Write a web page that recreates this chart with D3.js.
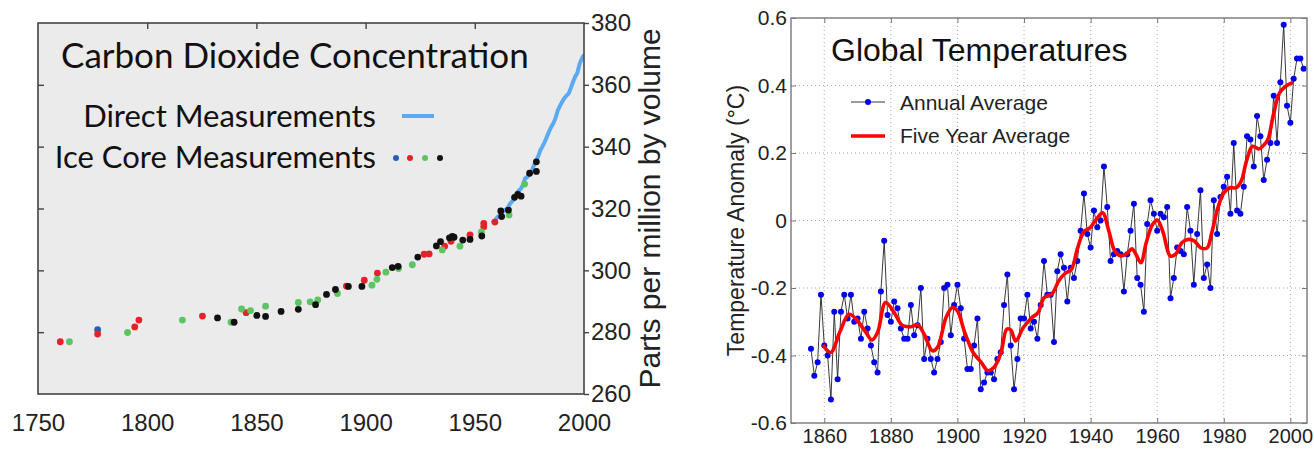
<!DOCTYPE html>
<html>
<head>
<meta charset="utf-8">
<script src="https://cdnjs.cloudflare.com/ajax/libs/d3/7.8.5/d3.min.js"></script>
<style>
body { margin: 0; background: #fff; }
svg { display: block; }
</style>
</head>
<body>
<div id="chart"></div>
<script>

// ---- CO2 panel data ----
var co2XTicks = [1750, 1800, 1850, 1900, 1950, 2000];
var co2YTicks = [260, 280, 300, 320, 340, 360, 380];

// ice core points, [year, ppm], grouped by record colour
var iceBlue = [[1777.3, 280.8]];
var iceRed = [[1760.2, 276.9], [1777.3, 279.4], [1794.3, 281.7], [1796.2, 283.9], [1825.3, 285.2],
  [1845.3, 286.3], [1891.2, 294.9], [1899.4, 296.8], [1905.4, 299.1], [1926.8, 305.2],
  [1929.1, 305.3], [1936.2, 307.8], [1939.1, 309.4], [1947.8, 311.5], [1954.1, 314.1],
  [1954.1, 315.2], [1959.2, 315.6]];
var iceGreen = [[1764.4, 276.9], [1791.0, 279.9], [1816.1, 283.9], [1838.4, 283.2], [1843.2, 287.5],
  [1847.3, 287.0], [1854.2, 288.4], [1869.2, 289.6], [1874.6, 289.8], [1878.1, 290.4],
  [1887.1, 292.5], [1902.9, 295.2], [1905.2, 297.1], [1909.3, 299.4], [1915.1, 300.6],
  [1921.4, 301.8], [1935.1, 306.6], [1943.2, 307.8], [1953.0, 312.4], [1965.7, 317.9],
  [1972.8, 327.9]];
var iceBlack = [[1832.2, 284.6], [1839.8, 283.2], [1850.2, 285.4], [1854.2, 285.1], [1861.3, 286.7],
  [1869.2, 287.4], [1877.1, 288.9], [1882.1, 292.2], [1886.2, 293.8], [1892.1, 294.8],
  [1898.3, 294.8], [1912.2, 300.9], [1914.9, 301.3], [1923.9, 304.3], [1932.4, 307.9],
  [1934.3, 309.3], [1938.4, 310.5], [1939.7, 311.0], [1940.5, 310.7], [1944.5, 309.8],
  [1947.8, 310.0], [1953.2, 311.1], [1961.9, 319.2], [1962.3, 317.4], [1965.4, 319.5],
  [1968.2, 323.6], [1969.7, 324.6], [1971.2, 324.0], [1975.1, 331.4], [1978.2, 332.0],
  [1978.2, 335.1]];

// direct measurements (Mauna Loa, annual)
var directYears = [1958, 1959, 1960, 1961, 1962, 1963, 1964, 1965, 1966, 1967, 1968, 1969,
  1970, 1971, 1972, 1973, 1974, 1975, 1976, 1977, 1978, 1979, 1980, 1981, 1982, 1983,
  1984, 1985, 1986, 1987, 1988, 1989, 1990, 1991, 1992, 1993, 1994, 1995, 1996, 1997,
  1998, 1999, 2000];
var directPpm = [315.3, 316.0, 316.9, 317.6, 318.5, 319.0, 319.6, 320.0, 321.4, 322.2, 323.0, 324.6,
  325.7, 326.3, 327.5, 329.7, 330.2, 331.1, 332.0, 333.8, 335.4, 336.8, 338.8, 340.1, 341.5, 343.2,
  344.9, 346.4, 347.6, 349.3, 351.7, 353.2, 354.5, 355.7, 356.5, 357.2, 359.0, 361.0, 362.7, 363.9,
  366.8, 368.5, 369.7];

// ---- temperature panel data ----
var tempXTicks = [1860, 1880, 1900, 1920, 1940, 1960, 1980, 2000];
var tempYTicks = [-0.6, -0.4, -0.2, 0, 0.2, 0.4, 0.6];
var firstYear = 1856;
var annualAvg = [-0.38, -0.46, -0.42, -0.22, -0.37, -0.40, -0.53, -0.27, -0.47, -0.27,
  -0.22, -0.29, -0.22, -0.30, -0.29, -0.35, -0.27, -0.32, -0.37, -0.42,
  -0.45, -0.21, -0.06, -0.28, -0.30, -0.24, -0.26, -0.32, -0.35, -0.35,
  -0.25, -0.34, -0.31, -0.20, -0.41, -0.35, -0.41, -0.45, -0.41, -0.36,
  -0.20, -0.19, -0.34, -0.25, -0.19, -0.26, -0.35, -0.44, -0.44, -0.37,
  -0.29, -0.50, -0.48, -0.45, -0.45, -0.47, -0.41, -0.39, -0.25, -0.16,
  -0.37, -0.50, -0.41, -0.29, -0.29, -0.22, -0.32, -0.30, -0.35, -0.25,
  -0.12, -0.22, -0.22, -0.36, -0.15, -0.10, -0.14, -0.24, -0.14, -0.17,
  -0.12, -0.03, 0.08, -0.04, -0.08, 0.03, -0.02, 0.00, 0.16, 0.04,
  -0.12, -0.10, -0.09, -0.10, -0.21, -0.10, -0.03, 0.05, -0.17, -0.19,
  -0.27, -0.01, 0.06, 0.02, -0.03, 0.02, 0.01, 0.04, -0.23, -0.17,
  -0.08, -0.09, -0.10, 0.04, -0.03, -0.19, -0.04, 0.09, -0.17, -0.13,
  -0.20, 0.06, -0.04, 0.07, 0.10, 0.13, 0.02, 0.23, 0.03, 0.02,
  0.10, 0.25, 0.24, 0.16, 0.31, 0.25, 0.12, 0.18, 0.23, 0.37,
  0.23, 0.41, 0.58, 0.34, 0.29, 0.42, 0.48, 0.48, 0.45];

// five year average
var fiveYears = [1859.6, 1862, 1864.6, 1867.4, 1869.6, 1872.2, 1874.3, 1876, 1878.4, 1881,
  1883.4, 1886, 1888, 1890, 1892.5, 1894, 1896.6, 1898.5, 1900, 1902.2,
  1904.7, 1907.2, 1909.1, 1911, 1913.1, 1914.8, 1916, 1917.5, 1919.8, 1922.3,
  1924.2, 1926, 1928.5, 1930.4, 1932.3, 1934.2, 1936.1, 1938, 1939.8, 1941.7,
  1943.6, 1945.5, 1947.3, 1949.2, 1951.1, 1952.4, 1953.6, 1955.1, 1956.7, 1958.6,
  1960.1, 1961.8, 1963.9, 1965.5, 1967.4, 1969.3, 1971.2, 1973.1, 1975, 1976.4,
  1978.1, 1980, 1981.9, 1983.7, 1985.2, 1986.8, 1988.6, 1990.5, 1991.7, 1993.2,
  1994.8, 1996.7, 1998.5, 2000.8];
var fiveAvg = [-0.369, -0.391, -0.332, -0.278, -0.293, -0.327, -0.354, -0.332, -0.243, -0.273,
  -0.310, -0.315, -0.309, -0.337, -0.386, -0.376, -0.287, -0.258, -0.268, -0.332,
  -0.391, -0.421, -0.445, -0.435, -0.391, -0.322, -0.324, -0.357, -0.317, -0.288,
  -0.273, -0.229, -0.216, -0.179, -0.157, -0.145, -0.081, -0.033, -0.022, 0.003,
  0.023, -0.032, -0.091, -0.105, -0.096, -0.084, -0.100, -0.125, -0.066, -0.012,
  0.001, -0.036, -0.105, -0.100, -0.066, -0.056, -0.061, -0.081, -0.081, -0.036,
  0.033, 0.082, 0.097, 0.097, 0.116, 0.175, 0.220, 0.212, 0.220, 0.239,
  0.308, 0.377, 0.397, 0.409];

var W = 1314, H = 449;
var svg = d3.select("#chart").append("svg")
    .attr("width", W)
    .attr("height", H);

drawCo2();
drawTemps();

function drawCo2()
{
  var x = d3.scaleLinear().domain([1750, 2000]).range([38, 584]);
  var y = d3.scaleLinear().domain([260, 380]).range([394, 23]);
  var g = svg.append("g");

  g.append("rect")
      .attr("x", x(1750)).attr("y", y(380))
      .attr("width", x(2000) - x(1750)).attr("height", y(260) - y(380))
      .style("fill", "#ebebeb");

  var clip = svg.append("clipPath").attr("id", "co2clip");
  clip.append("rect")
      .attr("x", x(1750)).attr("y", y(380))
      .attr("width", x(2000) - x(1750)).attr("height", y(260) - y(380));

  // direct measurements line
  var direct = directYears.map(function(d, i) { return [d, directPpm[i]]; });
  g.append("path")
      .datum(direct)
      .attr("clip-path", "url(#co2clip)")
      .attr("d", d3.line().x(function(d) { return x(d[0]); }).y(function(d) { return y(d[1]); }))
      .style("fill", "none")
      .style("stroke", "#5ba9f2")
      .style("stroke-width", 4);

  // ice core dots
  var groups = [[iceBlue, "#2a5db5"], [iceRed, "#e3222a"], [iceGreen, "#5cc462"], [iceBlack, "#111"]];
  groups.forEach(function(s) {
    g.selectAll(null)
      .data(s[0])
      .enter().append("circle")
      .attr("cx", function(d) { return x(d[0]); })
      .attr("cy", function(d) { return y(d[1]); })
      .attr("r", 3.4)
      .style("fill", s[1]);
  });

  g.append("rect")
      .attr("x", x(1750)).attr("y", y(380))
      .attr("width", x(2000) - x(1750)).attr("height", y(260) - y(380))
      .style("fill", "none")
      .style("stroke", "#444")
      .style("stroke-width", 1.6);

  // axes
  var xb = g.append("g")
      .attr("transform", "translate(0," + y(260) + ")")
      .call(d3.axisBottom(x).tickValues(co2XTicks).tickFormat(d3.format("d")).tickSize(0).tickPadding(20));
  var xt = g.append("g")
      .attr("transform", "translate(0," + y(380) + ")")
      .call(d3.axisTop(x).tickValues(co2XTicks.slice(1, 5)).tickSize(-6).tickFormat(""));
  var yl = g.append("g")
      .attr("transform", "translate(" + x(1750) + ",0)")
      .call(d3.axisLeft(y).tickValues(co2YTicks.slice(1, 6)).tickSize(-6).tickFormat(""));
  var yr = g.append("g")
      .attr("transform", "translate(" + x(2000) + ",0)")
      .call(d3.axisRight(y).tickValues(co2YTicks).tickSize(5).tickPadding(2));

  [xb, xt, yl, yr].forEach(function(a) {
    a.select(".domain").remove();
    a.selectAll("line").style("stroke", "#444").style("stroke-width", 1.4);
    a.selectAll("text")
      .style("font-family", "'Liberation Sans', Arial, sans-serif")
      .style("font-size", "24px")
      .style("fill", "#222");
  });

  g.append("text")
      .attr("transform", "translate(660," + ((y(260) + y(380)) / 2) + ") rotate(-90)")
      .style("text-anchor", "middle")
      .style("font-family", "'Liberation Sans', Arial, sans-serif")
      .style("font-size", "30px")
      .style("fill", "#222")
      .text("Parts per million by volume");

  // title and legend
  var hum = "Lato, 'Open Sans', sans-serif";
  g.append("text")
      .attr("x", 61).attr("y", 68)
      .style("font-family", hum)
      .style("font-size", "35px")
      .style("fill", "#111")
      .text("Carbon Dioxide Concentration");

  g.append("text")
      .attr("x", 376).attr("y", 127)
      .style("text-anchor", "end")
      .style("font-family", hum)
      .style("font-size", "31px")
      .style("fill", "#111")
      .text("Direct Measurements");
  g.append("line")
      .attr("x1", 402).attr("x2", 434).attr("y1", 116).attr("y2", 116)
      .style("stroke", "#5ba9f2").style("stroke-width", 4);

  g.append("text")
      .attr("x", 376).attr("y", 168)
      .style("text-anchor", "end")
      .style("font-family", hum)
      .style("font-size", "31px")
      .style("fill", "#111")
      .text("Ice Core Measurements");
  var legendDots = [[396, "#2a5db5"], [410, "#e3222a"], [425, "#5cc462"], [440, "#111"]];
  g.selectAll(null)
      .data(legendDots)
      .enter().append("circle")
      .attr("cx", function(d) { return d[0]; })
      .attr("cy", 158)
      .attr("r", 3)
      .style("fill", function(d) { return d[1]; });
}

function drawTemps()
{
  var x = d3.scaleLinear().domain([1850, 2005]).range([791, 1307]);
  var y = d3.scaleLinear().domain([-0.6, 0.6]).range([423, 18]);
  var g = svg.append("g");
  var font = "'Liberation Sans', Arial, sans-serif";

  // dotted grid
  g.selectAll(".vgrid")
      .data(tempXTicks)
      .enter().append("line")
      .attr("x1", function(d) { return x(d); }).attr("x2", function(d) { return x(d); })
      .attr("y1", y(0.6)).attr("y2", y(-0.6))
      .style("stroke", "#aaa").style("stroke-dasharray", "1,3").style("stroke-width", 1);
  g.selectAll(".hgrid")
      .data(tempYTicks.slice(1, 6))
      .enter().append("line")
      .attr("x1", x(1850)).attr("x2", x(2005))
      .attr("y1", function(d) { return y(d); }).attr("y2", function(d) { return y(d); })
      .style("stroke", "#aaa").style("stroke-dasharray", "1,3").style("stroke-width", 1);

  var annual = annualAvg.map(function(v, i) { return [firstYear + i, v]; });
  var five = fiveYears.map(function(d, i) { return [d, fiveAvg[i]]; });

  g.append("path")
      .datum(annual)
      .attr("d", d3.line().x(function(d) { return x(d[0]); }).y(function(d) { return y(d[1]); }))
      .style("fill", "none")
      .style("stroke", "#222")
      .style("stroke-width", 0.9);

  g.selectAll(null)
      .data(annual)
      .enter().append("circle")
      .attr("cx", function(d) { return x(d[0]); })
      .attr("cy", function(d) { return y(d[1]); })
      .attr("r", 3)
      .style("fill", "#0000ee");

  g.append("path")
      .datum(five)
      .attr("d", d3.line().curve(d3.curveCatmullRom)
          .x(function(d) { return x(d[0]); }).y(function(d) { return y(d[1]); }))
      .style("fill", "none")
      .style("stroke", "#ff0000")
      .style("stroke-width", 3.6)
      .style("stroke-linejoin", "round");

  g.append("rect")
      .attr("x", x(1850)).attr("y", y(0.6))
      .attr("width", x(2005) - x(1850)).attr("height", y(-0.6) - y(0.6))
      .style("fill", "none")
      .style("stroke", "#777")
      .style("stroke-width", 1.4);

  var xb = g.append("g")
      .attr("transform", "translate(0," + y(-0.6) + ")")
      .call(d3.axisBottom(x).tickValues(tempXTicks).tickFormat(d3.format("d")).tickSize(-5).tickPadding(6));
  var xt = g.append("g")
      .attr("transform", "translate(0," + y(0.6) + ")")
      .call(d3.axisTop(x).tickValues(tempXTicks).tickSize(-5).tickFormat(""));
  var yl = g.append("g")
      .attr("transform", "translate(" + x(1850) + ",0)")
      .call(d3.axisLeft(y).tickValues(tempYTicks).tickSize(-5).tickPadding(4)
          .tickFormat(function(d) { return d === 0 ? "0" : d3.format(".1f")(d).replace("\u2212", "-"); }));
  var yr = g.append("g")
      .attr("transform", "translate(" + x(2005) + ",0)")
      .call(d3.axisRight(y).tickValues(tempYTicks).tickSize(-5).tickFormat(""));

  [xb, xt, yl, yr].forEach(function(a) {
    a.select(".domain").remove();
    a.selectAll("line").style("stroke", "#777").style("stroke-width", 1);
    a.selectAll("text")
      .style("font-family", font)
      .style("font-size", "20px")
      .style("fill", "#222");
  });
  yl.selectAll("text").style("font-size", "21px");

  g.append("text")
      .attr("transform", "translate(744," + y(0) + ") rotate(-90)")
      .style("text-anchor", "middle")
      .style("font-family", font)
      .style("font-size", "23px")
      .style("fill", "#222")
      .text("Temperature Anomaly (\u00b0C)");

  g.append("text")
      .attr("x", 831).attr("y", 61)
      .style("font-family", font)
      .style("font-size", "32px")
      .style("fill", "#111")
      .text("Global Temperatures");

  // legend
  g.append("line")
      .attr("x1", 851).attr("x2", 885).attr("y1", 102).attr("y2", 102)
      .style("stroke", "#222").style("stroke-width", 0.9);
  g.append("circle")
      .attr("cx", 868).attr("cy", 102).attr("r", 3)
      .style("fill", "#0000ee");
  g.append("text")
      .attr("x", 900).attr("y", 110)
      .style("font-family", font)
      .style("font-size", "21px")
      .style("fill", "#222")
      .text("Annual Average");

  g.append("line")
      .attr("x1", 851).attr("x2", 885).attr("y1", 136).attr("y2", 136)
      .style("stroke", "#ff0000").style("stroke-width", 3.6);
  g.append("text")
      .attr("x", 900).attr("y", 143)
      .style("font-family", font)
      .style("font-size", "21px")
      .style("fill", "#222")
      .text("Five Year Average");
}
</script>
</body>
</html>
